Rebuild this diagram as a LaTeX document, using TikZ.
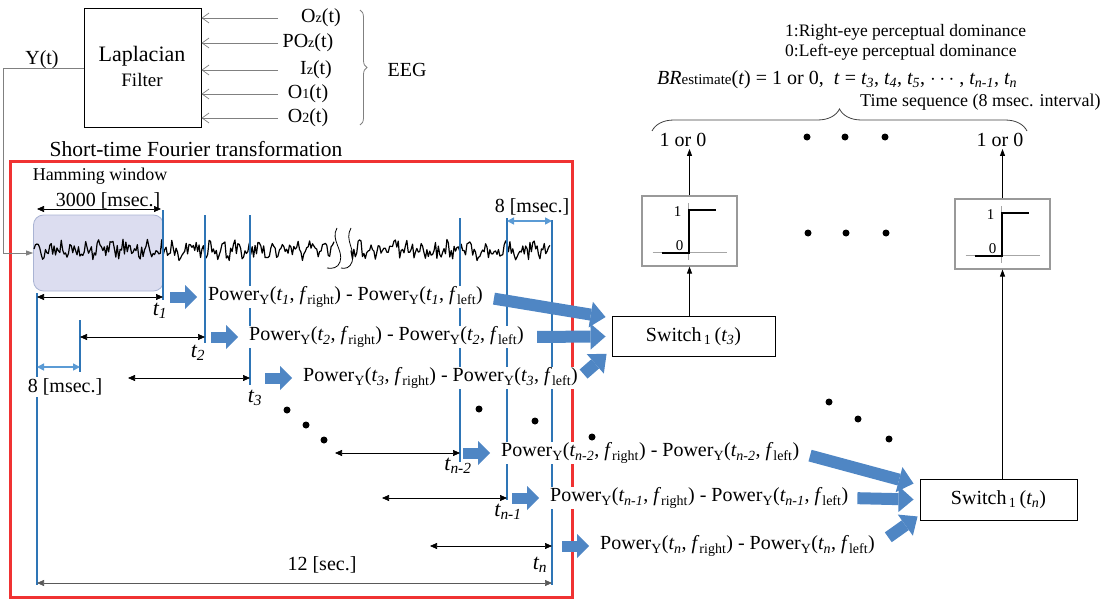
\documentclass[tikz,border=0pt]{standalone}
\usepackage{fontspec}
\setmainfont{Liberation Serif}
\usetikzlibrary{arrows.meta,positioning,calc,decorations.pathreplacing}
\definecolor{TBlue}{HTML}{2E75B6}
\definecolor{TFill}{HTML}{4F86C4}
\definecolor{TLight}{HTML}{5B9BD5}
\definecolor{TRed}{HTML}{F03232}
\definecolor{TWin}{HTML}{DCDDF0}
\definecolor{TWinEdge}{HTML}{A9B3D3}
\definecolor{TGray}{HTML}{808080}
\newcommand{\fsz}[1]{\fontsize{#1}{#1}\selectfont}
\newcommand{\powdiff}[1]{Power\textsubscript{Y}(\textit{t\textsubscript{#1}}, \textit{f}\textsubscript{right}) - Power\textsubscript{Y}(\textit{t\textsubscript{#1}}, \textit{f}\textsubscript{left})}
\newcommand{\tsub}[1]{\textit{t\textsubscript{#1}}}

\begin{document}
\begin{tikzpicture}[
  x=1pt,y=-1pt,
  every node/.style={font=\fsz{20},inner sep=2pt},
  lapbox/.style={draw,line width=0.9pt,minimum width=117pt,minimum height=119pt},
  switchbox/.style={draw,line width=0.9pt,minimum width=163pt,minimum height=40pt},
  stepbox/.style={draw=TGray!80,line width=1.1pt,minimum width=95pt,minimum height=70pt},
  hamwin/.style={draw=TWinEdge,fill=TWin,rounded corners=10pt,line width=0.8pt,
    minimum width=130pt,minimum height=76pt},
  power/.style={fill=white,anchor=west,inner sep=1pt},
  timeline/.style={TBlue,line width=1.6pt},
  signal/.style={black,line width=1.2pt,line join=round},
  dimarrow/.style={{Triangle[length=7pt,width=6pt]}-{Triangle[length=7pt,width=6pt]},line width=0.7pt},
  msec/.style={TLight,line width=1.6pt,{Triangle[length=7pt,width=7pt]}-{Triangle[length=7pt,width=7pt]}},
  blockarr/.style={TFill,line width=12pt,-{Triangle[length=15pt,width=26pt,line width=0pt]}},
  smallarr/.style={TFill,line width=11pt,-{Triangle[length=12pt,width=24pt,line width=0pt]}},
  inarr/.style={TGray,line width=0.7pt,-{Straight Barb[length=7pt,width=10pt]}},
  upline/.style={line width=0.8pt,-{Triangle[length=7pt,width=5pt]}}
]
  \useasboundingbox (0,0) rectangle (1104,602);

  % Laplacian filter and EEG channels
  \node[lapbox] (lap) at (142.5,68) {};
  \node[font=\fsz{22}] (laptop) at (142,56) {Laplacian};
  \node[font=\fsz{19}] (lapbot) at (142,80) {Filter};
  \node (oz) at (321,18) {O{\fsz{14}z}(t)};
  \node (poz) at (308,43) {PO{\fsz{14}z}(t)};
  \node (iz) at (316,70) {I{\fsz{14}z}(t)};
  \node (o1) at (308,94) {O{\fsz{14}1}(t)};
  \node (o2) at (308,118) {O{\fsz{14}2}(t)};
  \coordinate (tap) at (278,0);
  \foreach \e in {oz,poz,iz,o1,o2} {\draw[inarr] (tap |- \e) -- (lap.east |- \e);}
  \draw[TGray,line width=0.8pt,decorate,decoration={brace,amplitude=7pt}] (360,10) -- (360,125);
  \node (eeg) at (407,70) {EEG};
  \node (ylab) at (42,60) {Y(t)};

  % short-time Fourier transformation
  \draw[TRed,line width=3pt] (10,161) rectangle (572,597);
  \node[font=\fsz{21.5}] (stft) at (196,149) {Short-time Fourier transformation};
  \node[hamwin] (win) at (98.5,253) {};
  \draw[TGray,line width=0.8pt,-{Triangle[length=7pt,width=5pt]}] (lap.west) -- ++(-80,0) |- (win.west);
  \node[font=\fsz{18}] (hamm) at (100,176) {Hamming window};
  \node (wlen) at (108,201) {3000 [msec.]};
  \draw[dimarrow] (37,209) -- (161,209);

  \pgfmathsetseed{11}
  \draw[signal] plot[domain=34:334,samples=210] (\x,{250+8*rand+3*sin(29*(\x-300))});
  \draw[signal] plot[domain=351:550,samples=140] (\x,{250+8*rand+3*sin(29*(\x-300))});
  \draw[line width=0.8pt] (337,228) .. controls (330,240) and (344,250) .. (340,262)
    .. controls (338,268) and (332,269) .. (327,268);
  \draw[line width=0.8pt] (351,228) .. controls (344,240) and (356,250) .. (352,262)
    .. controls (350,268) and (345,269) .. (341,268);

  \foreach \x/\top/\bot in {163/210/300, 205/215/343, 250/215/385, 460/218/462,
    507/218/500, 552/220/585, 37/293/585, 80/320/372}
    {\draw[timeline] (\x,\top) -- (\x,\bot);}
  \node (gapt) at (532,207) {8 [msec.]};
  \draw[msec] (507,221) -- (552,221);
  \draw[msec] (37,367) -- (80,367);
  \node[fill=white] (gapb) at (65,387) {8 [msec.]};

  \foreach \tx/\lx/\ax/\ry/\s/\nm in {163/37/170/297/1/p1, 205/80/211/337/2/p2,
    250/128/265/378/3/p3, 460/335/463/453/n-2/pa, 507/382/512/498/n-1/pb, 552/430/562/546/n/pn} {
    \draw[dimarrow] (\lx,\ry) -- (\tx,\ry);
    \draw[smallarr] (\ax,\ry) -- ++(27,0);
    \node[power] (\nm) at (\ax+37,\ry) {\powdiff{\s}};
  }
  \node[font=\fsz{22}] (t1) at (160,311) {\tsub{1}};
  \node[font=\fsz{22}] (t2) at (198,353) {\tsub{2}};
  \node[font=\fsz{22}] (t3) at (255,398) {\tsub{3}};
  \node[font=\fsz{22}] (tna) at (458,466) {\tsub{n-2}};
  \node[font=\fsz{22}] (tnb) at (508,512) {\tsub{n-1}};
  \node[font=\fsz{22}] (tnn) at (540,565) {\tsub{n}};
  \draw[dimarrow,black!65] (37,583) -- (552,583);
  \node (total) at (322,565) {12 [sec.]};

  % switches and step functions
  \node[switchbox] (sw3) at (693.5,336.5) {Switch\textsubscript{\,1}\,(\tsub{3})};
  \node[switchbox,minimum width=157pt,minimum height=41pt] (swn) at (998.5,499.5)
    {Switch\textsubscript{\,1}\,(\tsub{n})};
  \draw[blockarr,shorten <=10pt] (p1.east) -- ([xshift=-6pt,yshift=-1pt]sw3.north west);
  \draw[blockarr,shorten <=12pt] (p2.east) -- ([xshift=-6pt]sw3.west);
  \draw[blockarr,shorten <=6pt] (p3.east) -- ([xshift=-5pt,yshift=3pt]sw3.south west);
  \draw[blockarr,shorten <=10pt] (pa.east) -- ([xshift=-6pt,yshift=-5pt]swn.north west);
  \draw[blockarr,shorten <=8pt] (pb.east) -- ([xshift=-6pt]swn.west);
  \draw[blockarr,shorten <=15pt] (pn.east) -- ([xshift=-2pt,yshift=4pt]swn.south west);

  \node[stepbox] (st1) at (689.5,231) {};
  \node[stepbox] (stn) at (1002.5,234) {};
  \foreach \b in {st1,stn} {
    \begin{scope}[shift={(\b.center)}]
      \draw[TGray!70,line width=0.8pt] (-1,-28) -- (-1,29) (-37,21) -- (37,21);
      \draw[line width=2pt] (-28,22) -- (-1,22) -- (-1,-21) -- (26,-21);
      \node[font=\fsz{15}] (\b-one) at (-12,-19) {1};
      \node[font=\fsz{15}] (\b-zero) at (-10,15) {0};
    \end{scope}
  }
  \node (out1) at (683,140) {1 or 0};
  \node (outn) at (1000,140) {1 or 0};
  \draw[upline] (sw3.north -| st1) -- (st1.south);
  \draw[upline] (swn.north -| stn) -- (stn.south);
  \draw[upline] (st1.north) -- (st1.north |- out1.south);
  \draw[upline] (stn.north) -- (stn.north |- outn.south);

  \foreach \x/\y in {807/137, 845/137, 885/137, 808/233, 846/233, 886/233,
    287/410, 306/425, 324/440, 479/409, 535/421, 592/437, 829/402, 858/419, 889/439}
    {\fill (\x,\y) circle[radius=3.5pt];}

  % estimate output
  \node[font=\fsz{17.5},anchor=west] (dom1) at (783,32) {1:Right-eye perceptual dominance};
  \node[font=\fsz{17.5},anchor=west] (dom0) at (783,52) {0:Left-eye perceptual dominance};
  \node[anchor=west] (brest) at (655,80) {\textit{BR}{\fsz{15}estimate}(\textit{t}) = 1 or 0,\ \ \textit{t} = \tsub{3}, \tsub{4}, \tsub{5}, $\cdots$ , \tsub{n-1}, \tsub{n}};
  \node[font=\fsz{18},anchor=west] (tseq) at (858,102) {Time sequence (8 msec. interval)};
  \draw[black!75,line width=0.8pt,decorate,decoration={brace,amplitude=22pt}] (652,131) -- (1027,131);
\end{tikzpicture}
\end{document}
